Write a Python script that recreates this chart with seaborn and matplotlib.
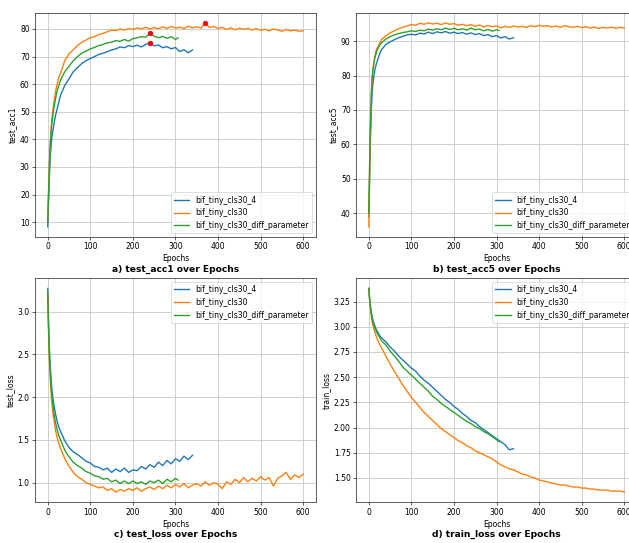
import pandas as pd
import matplotlib.pyplot as plt
import seaborn as sns

# run names (legend order)
RUNS = ["bif_tiny_cls30_4", "bif_tiny_cls30", "bif_tiny_cls30_diff_parameter"]

# epochs logged for each run (dense at the start, then every 10)
EARLY = [0, 2, 4, 6, 8, 10, 14, 18, 22, 26]
epochs_cls30_4 = EARLY + list(range(30, 341, 10))
epochs_cls30 = EARLY + list(range(30, 601, 10))
epochs_diff = EARLY + list(range(30, 301, 10)) + [306]

# test_acc1
acc1_cls30_4 = [8.3, 18, 27, 34, 38, 41, 45, 48.5, 51, 53.5,
                56, 59.5, 62, 64.5, 66, 67.5, 68.5, 69.3, 70, 70.8, 71.2, 71.8, 72.4, 72.8, 73.5, 73.2,
                74, 73.6, 74.1, 73.5, 74.4, 75.0, 73.9, 74.2, 73.2, 73.6, 72.8, 73.3, 71.8, 72.5, 71.4, 72.4]
acc1_cls30 = [10.5, 22, 32, 39, 44, 48, 53, 57, 60, 62.5,
              64, 68.5, 71, 72.5, 74, 75.2, 76, 76.8, 77.2, 78, 78.4, 79, 79.6, 79.4, 80, 79.6,
              80.2, 79.8, 80.4, 80.0, 80.6, 80.0, 80.5, 80.1, 80.8, 80.2, 80.9, 80.3, 80.7, 80.1,
              81.0, 80.4, 80.8, 80.3, 82.2, 80.5, 80.9, 80.2, 80.6, 79.8, 80.4, 79.7, 80.3, 79.9,
              80.2, 79.6, 80.1, 79.5, 79.9, 79.3, 80.0, 79.6, 79.2, 79.8, 79.3, 79.6, 79.2, 79.3]
acc1_diff = [10.0, 21, 31, 38, 43, 46, 51, 54.5, 57.5, 59.5,
             61.5, 64.5, 66.5, 68.5, 70, 71.2, 72, 72.8, 73.3, 74, 74.4, 75, 75.2, 75.8, 75.5, 76.2,
             75.6, 76.5, 76.8, 77.2, 77.0, 78.4, 77.4, 76.8, 77.3, 76.6, 77.2, 76.2, 76.8]

# test_acc5
acc5_cls30_4 = [39, 50, 62, 70, 75, 78, 81.5, 83.5, 85, 86.5,
                87.5, 89, 89.8, 90.4, 91, 91.4, 91.8, 92, 91.8, 92.3, 92.1, 92.6, 92.2, 92.7, 92.4, 92.8,
                92.3, 92.6, 92.2, 92.5, 92.0, 92.4, 91.9, 92.2, 91.6, 91.9, 91.3, 91.6, 90.9, 91.3, 90.6, 91.0]
acc5_cls30 = [36, 52, 65, 74, 79, 82, 85.5, 87.5, 88.5, 89.5,
              90.5, 91.5, 92.4, 93, 93.6, 94, 94.4, 94.8, 94.6, 95.2, 94.9, 95.3, 95, 95.2, 94.8, 95.3,
              94.9, 95.1, 94.6, 94.9, 94.5, 94.8, 94.3, 94.7, 94.1, 94.5, 94.2, 94.4, 93.9, 94.3,
              94.0, 94.4, 94.1, 94.3, 94.0, 94.5, 94.2, 94.6, 94.3, 94.5, 94.1, 94.4, 94.0, 94.5,
              94.2, 94.0, 94.3, 93.9, 94.2, 93.8, 94.1, 93.7, 94.0, 93.8, 94.1, 93.7, 94.0, 93.8]
acc5_diff = [40, 55, 67, 75, 79.5, 82, 85, 86.8, 88, 89,
             89.5, 90.6, 91.3, 91.8, 92.2, 92.5, 92.7, 93, 92.8, 93.2, 93.0, 93.5, 93.2, 93.6, 93.3, 93.8,
             93.4, 93.7, 93.3, 93.6, 93.2, 93.8, 93.3, 93.5, 93.0, 93.4, 92.9, 93.3, 93.1]

# test_loss
tloss_cls30_4 = [3.27, 2.85, 2.55, 2.35, 2.2, 2.07, 1.92, 1.81, 1.72, 1.65,
                 1.60, 1.49, 1.41, 1.36, 1.33, 1.29, 1.25, 1.23, 1.19, 1.18, 1.15, 1.17, 1.12, 1.16, 1.13, 1.17,
                 1.12, 1.15, 1.14, 1.19, 1.16, 1.21, 1.18, 1.24, 1.20, 1.26, 1.22, 1.28, 1.25, 1.31, 1.27, 1.32]
tloss_cls30 = [3.20, 2.75, 2.42, 2.20, 2.04, 1.92, 1.75, 1.62, 1.53, 1.46,
               1.40, 1.28, 1.19, 1.12, 1.07, 1.04, 1.00, 0.98, 0.96, 0.94, 0.95, 0.91, 0.93, 0.89, 0.92, 0.90,
               0.93, 0.91, 0.94, 0.90, 0.93, 0.95, 0.92, 0.96, 0.93, 0.97, 0.94, 0.98, 0.95, 0.99,
               0.94, 0.97, 0.99, 0.96, 1.01, 0.97, 1.00, 0.98, 0.93, 1.01, 0.98, 1.04, 1.00, 1.06,
               1.01, 1.05, 1.02, 1.07, 1.03, 1.06, 0.96, 1.05, 1.08, 1.12, 1.04, 1.09, 1.06, 1.10]
tloss_diff = [3.22, 2.78, 2.47, 2.27, 2.12, 1.99, 1.83, 1.71, 1.62, 1.55,
              1.50, 1.38, 1.30, 1.24, 1.20, 1.17, 1.13, 1.11, 1.08, 1.07, 1.04, 1.05, 1.01, 1.03, 0.99, 1.02,
              0.99, 1.02, 0.99, 1.01, 0.98, 1.02, 1.00, 1.03, 0.99, 1.04, 1.01, 1.05, 1.03]

# train_loss
trloss_cls30_4 = [3.38, 3.28, 3.20, 3.14, 3.10, 3.06, 3.01, 2.97, 2.94, 2.91,
                  2.89, 2.85, 2.80, 2.76, 2.71, 2.67, 2.63, 2.59, 2.56, 2.51, 2.47, 2.44, 2.40, 2.36, 2.32, 2.28,
                  2.25, 2.21, 2.18, 2.14, 2.11, 2.07, 2.05, 2.01, 1.98, 1.95, 1.92, 1.89, 1.86, 1.83, 1.78, 1.79]
trloss_cls30 = [3.38, 3.26, 3.17, 3.10, 3.05, 3.01, 2.95, 2.90, 2.86, 2.82,
                2.79, 2.71, 2.63, 2.56, 2.49, 2.42, 2.36, 2.30, 2.25, 2.20, 2.15, 2.11, 2.07, 2.03, 1.99, 1.96,
                1.93, 1.90, 1.87, 1.85, 1.82, 1.80, 1.77, 1.75, 1.73, 1.71, 1.69, 1.66, 1.63, 1.61,
                1.59, 1.58, 1.56, 1.54, 1.53, 1.51, 1.50, 1.48, 1.47, 1.46, 1.45, 1.44, 1.43, 1.43,
                1.42, 1.41, 1.41, 1.40, 1.40, 1.39, 1.39, 1.38, 1.38, 1.38, 1.37, 1.37, 1.37, 1.36]
trloss_diff = [3.38, 3.27, 3.19, 3.13, 3.08, 3.04, 2.99, 2.95, 2.92, 2.89,
               2.86, 2.82, 2.76, 2.71, 2.66, 2.60, 2.56, 2.52, 2.48, 2.44, 2.40, 2.36, 2.31, 2.28, 2.24, 2.21,
               2.18, 2.15, 2.12, 2.09, 2.06, 2.04, 2.01, 1.99, 1.96, 1.94, 1.91, 1.88, 1.86]


def make_frame(a, b, c):
    parts = []
    for run, ep, vals in zip(RUNS, [epochs_cls30_4, epochs_cls30, epochs_diff], [a, b, c]):
        parts.append(pd.DataFrame({"Epochs": ep, "value": vals, "run": run}))
    return pd.concat(parts, ignore_index=True)


panels = [
    ("test_acc1", make_frame(acc1_cls30_4, acc1_cls30, acc1_diff), "lower right", "a)"),
    ("test_acc5", make_frame(acc5_cls30_4, acc5_cls30, acc5_diff), "lower right", "b)"),
    ("test_loss", make_frame(tloss_cls30_4, tloss_cls30, tloss_diff), "upper right", "c)"),
    ("train_loss", make_frame(trloss_cls30_4, trloss_cls30, trloss_diff), "upper right", "d)"),
]

# axes boxes (the right column runs past the image edge, like the original screenshot)
boxes = [[0.0556, 0.5635, 0.4467, 0.4131], [0.566, 0.5635, 0.4467, 0.4131],
         [0.0556, 0.075, 0.4467, 0.4125], [0.566, 0.075, 0.4467, 0.4125]]

fig = plt.figure(figsize=(11.4364, 9.8728), dpi=55)
colors = ["#1f77b4", "#ff7f0e", "#2ca02c"]

for (name, df, loc, tag), box in zip(panels, boxes):
    ax = fig.add_axes(box)
    sns.lineplot(data=df, x="Epochs", y="value", hue="run", hue_order=RUNS,
                 palette=colors, ax=ax, linewidth=1.8)
    ax.set_ylabel(name)
    ax.set_xlabel("Epochs")
    ax.grid(True, color="#c8c8c8", linewidth=1.1)
    handles, labels = ax.get_legend_handles_labels()
    ax.legend(handles, labels, loc=loc)
    ax.text(0.5, -0.143, f"{tag} {name} over Epochs", transform=ax.transAxes,
            ha="center", va="center", fontsize=12, fontweight="bold")

    # mark best accuracy of each run
    if name == "test_acc1":
        for run in RUNS:
            sub = df[df["run"] == run]
            best = sub.loc[sub["value"].idxmax()]
            ax.plot(best["Epochs"], best["value"], "o", color="red", markersize=6)

fig.savefig("out.png", dpi=55)
